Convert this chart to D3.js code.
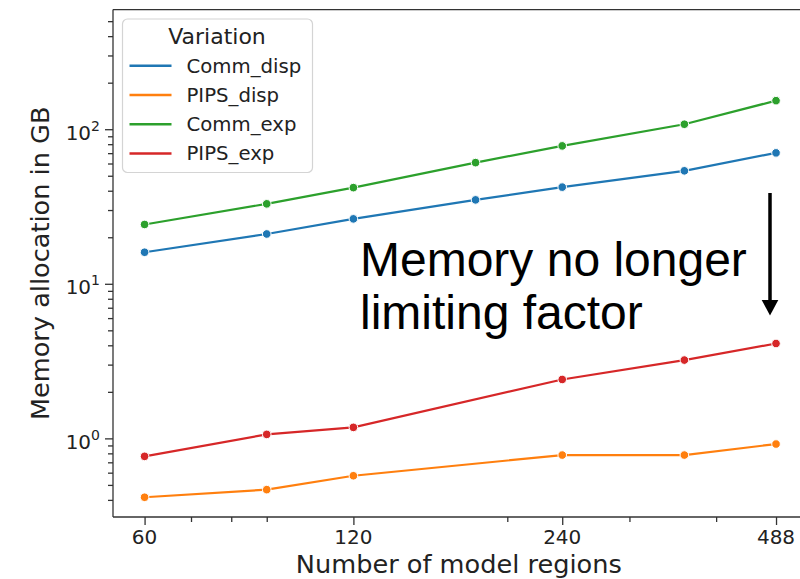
<!DOCTYPE html>
<html>
<head>
<meta charset="utf-8">
<script src="https://cdn.jsdelivr.net/npm/d3@7"></script>
<style>
  html, body { margin: 0; padding: 0; background: #fff; }
  svg { display: block; }
</style>
</head>
<body>
<svg id="chart" width="800" height="579"></svg>
<script>
// ---- data ----
const regionsComm = [60, 90, 120, 180, 240, 360, 488];
const regionsPips = [60, 90, 120, 240, 360, 488];
const commDisp = [16.0, 21.0, 26.3, 34.9, 42.2, 53.8, 70.3];
const commExp  = [24.2, 32.9, 41.9, 60.8, 78.0, 107.7, 153];
const pipsDisp = [0.416, 0.466, 0.573, 0.78, 0.78, 0.919];
const pipsExp  = [0.765, 1.061, 1.178, 2.405, 3.21, 4.11];
const seriesNames = ["Comm_disp", "PIPS_disp", "Comm_exp", "PIPS_exp"];
const seriesColors = ["#1f77b4", "#ff7f0e", "#2ca02c", "#d62728"];
const xTickValues = [60, 120, 240, 488];
const xMinorTicks = [70, 80, 90, 200, 300, 400];
const yMajorTicks = [1, 10, 100];
const yDomain = [0.31, 594];
const xLabel = "Number of model regions";
const yLabel = "Memory allocation in GB";
const legendTitle = "Variation";
const noteLines = ["Memory no longer", "limiting factor"];

const series = [
  { name: seriesNames[0], x: regionsComm, y: commDisp, color: seriesColors[0] },
  { name: seriesNames[1], x: regionsPips, y: pipsDisp, color: seriesColors[1] },
  { name: seriesNames[2], x: regionsComm, y: commExp,  color: seriesColors[2] },
  { name: seriesNames[3], x: regionsPips, y: pipsExp,  color: seriesColors[3] }
];

// ---- layout ----
const L = 113, R = 807.6, T = 9.6, B = 517;
const svg = d3.select("#chart");

const lx0 = Math.log10(d3.min(regionsComm)), lx1 = Math.log10(d3.max(regionsComm));
const pad = 0.05 * (lx1 - lx0);
const x = d3.scaleLog().domain([Math.pow(10, lx0 - pad), Math.pow(10, lx1 + pad)]).range([L, R]);
const y = d3.scaleLog().domain(yDomain).range([B, T]);

const font = "'DejaVu Sans', sans-serif";
const axisColor = "#333";

// y minor ticks
const yMinor = [];
[0.1, 1, 10, 100].forEach(d => { for (let k = 2; k <= 9; k++) { const v = d * k; if (v >= yDomain[0] && v <= yDomain[1]) yMinor.push(v); } });

const g = svg.append("g");

// ---- axes via d3 ----
const yAxisMajor = d3.axisLeft(y).tickValues(yMajorTicks).tickSize(8).tickFormat("");
const yAxisMinor = d3.axisLeft(y).tickValues(yMinor).tickSize(5).tickFormat("");
const xAxisMajor = d3.axisBottom(x).tickValues(xTickValues).tickSize(8).tickFormat("");
const xAxisMinor = d3.axisBottom(x).tickValues(xMinorTicks).tickSize(5).tickFormat("");

function styleAxis(sel) {
  sel.select(".domain").remove();
  sel.selectAll(".tick line").attr("stroke", axisColor).attr("stroke-width", 1.3);
}
g.append("g").attr("transform", `translate(${L},0)`).call(yAxisMajor).call(styleAxis);
g.append("g").attr("transform", `translate(${L},0)`).call(yAxisMinor).call(styleAxis);
g.append("g").attr("transform", `translate(0,${B})`).call(xAxisMajor).call(styleAxis);
g.append("g").attr("transform", `translate(0,${B})`).call(xAxisMinor).call(styleAxis);

// tick labels
g.selectAll(".xtl").data(xTickValues).enter().append("text")
  .attr("x", d => x(d)).attr("y", B + 26.5)
  .attr("text-anchor", "middle")
  .attr("font-family", font).attr("font-size", 20).attr("fill", "#222")
  .text(d => d);

const ytl = g.selectAll(".ytl").data(yMajorTicks).enter().append("text")
  .attr("x", 100).attr("y", d => y(d) + 10.5)
  .attr("text-anchor", "end")
  .attr("font-family", font).attr("fill", "#222");
ytl.append("tspan").attr("font-size", 20).text("10");
ytl.append("tspan").attr("font-size", 14).attr("dy", -9).text(d => Math.round(Math.log10(d)));

// axis labels
g.append("text").attr("x", (L + R) / 2 - 1.5).attr("y", 573)
  .attr("text-anchor", "middle").attr("font-family", font).attr("font-size", 25.6).attr("fill", "#222")
  .text(xLabel);
g.append("text").attr("transform", `translate(49,${(T + B) / 2}) rotate(-90)`)
  .attr("text-anchor", "middle").attr("font-family", font).attr("font-size", 25.6).attr("fill", "#222")
  .text(yLabel);

// ---- lines & markers ----
const line = d3.line().x(d => x(d[0])).y(d => y(d[1]));
series.forEach(s => {
  const pts = s.x.map((v, i) => [v, s.y[i]]);
  g.append("path").datum(pts).attr("d", line)
    .attr("fill", "none").attr("stroke", s.color).attr("stroke-width", 2.2);
});
series.forEach(s => {
  const pts = s.x.map((v, i) => [v, s.y[i]]);
  g.selectAll(null).data(pts).enter().append("circle")
    .attr("cx", d => x(d[0])).attr("cy", d => y(d[1])).attr("r", 4.3)
    .attr("fill", s.color).attr("stroke", "#fff").attr("stroke-width", 1);
});

// ---- spines ----
g.append("line").attr("x1", L).attr("x2", L).attr("y1", T).attr("y2", B).attr("stroke", axisColor).attr("stroke-width", 1.3);
g.append("line").attr("x1", L).attr("x2", R).attr("y1", B).attr("y2", B).attr("stroke", axisColor).attr("stroke-width", 1.3);
g.append("line").attr("x1", L).attr("x2", R).attr("y1", T).attr("y2", T).attr("stroke", axisColor).attr("stroke-width", 1.3);
g.append("line").attr("x1", R).attr("x2", R).attr("y1", T).attr("y2", B).attr("stroke", axisColor).attr("stroke-width", 1.3);

// ---- legend ----
const lg = g.append("g");
lg.append("rect").attr("x", 122.5).attr("y", 19).attr("width", 190).attr("height", 153.5)
  .attr("rx", 5).attr("fill", "#fff").attr("fill-opacity", 0.85)
  .attr("stroke", "#d4d4d4").attr("stroke-width", 1.2);
lg.append("text").attr("x", 217).attr("y", 43.5).attr("text-anchor", "middle")
  .attr("font-family", font).attr("font-size", 22).attr("fill", "#222").text(legendTitle);
series.forEach((s, i) => {
  const yy = 65.7 + i * 29.3;
  lg.append("line").attr("x1", 129.5).attr("x2", 171.5).attr("y1", yy).attr("y2", yy)
    .attr("stroke", s.color).attr("stroke-width", 2.5);
  lg.append("text").attr("x", 186.5).attr("y", yy + 6.8)
    .attr("font-family", font).attr("font-size", 19.7).attr("fill", "#222").text(s.name);
});

// ---- annotation ----
const note = g.append("text").attr("font-family", "'Liberation Sans', Arial, sans-serif")
  .attr("font-size", 48).attr("fill", "#000");
note.append("tspan").attr("x", 360).attr("y", 276).text(noteLines[0]);
note.append("tspan").attr("x", 360).attr("y", 329).text(noteLines[1]);

// arrow
const ax = 770;
g.append("line").attr("x1", ax).attr("x2", ax).attr("y1", 193).attr("y2", 301)
  .attr("stroke", "#000").attr("stroke-width", 3.5);
g.append("path").attr("d", `M${ax - 8.3},300 L${ax + 8.3},300 L${ax},315.5 Z`).attr("fill", "#000");
</script>
</body>
</html>
